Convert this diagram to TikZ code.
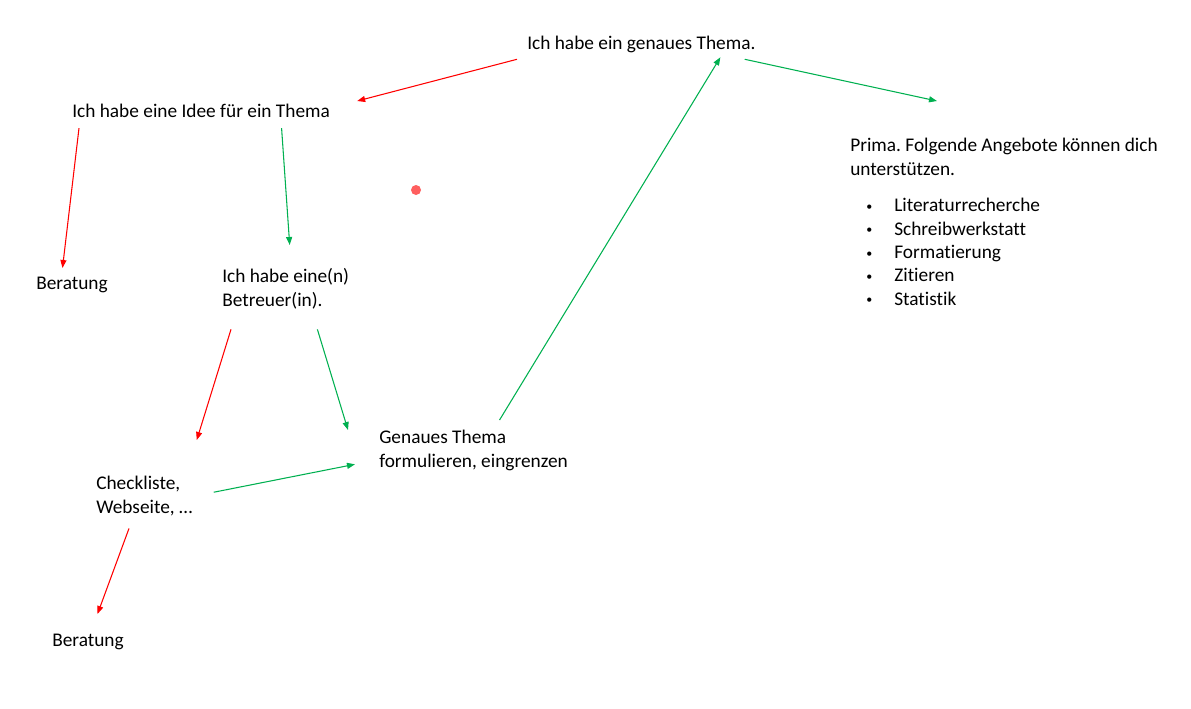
\documentclass[tikz,border=0pt]{standalone}
\usepackage{fontspec}
\setmainfont[Ligatures=NoCommon]{Carlito}
\usetikzlibrary{arrows.meta}
\definecolor{neinred}{RGB}{255,0,0}
\definecolor{jagreen}{RGB}{0,176,80}
\definecolor{punktred}{RGB}{255,95,95}
\frenchspacing
\newcommand{\punkt}{\makebox[21pt][l]{\raisebox{1pt}{\fontsize{9}{9}\selectfont\textbullet}}}

\begin{document}
\begin{tikzpicture}[
    x=0.75pt, y=-0.75pt,
    font=\fontsize{14.5}{18}\selectfont,
    txt/.style={inner sep=0pt, anchor=north west, align=left},
    ja/.style={-{Triangle[length=6pt,width=4.5pt]}, line width=0.8pt, draw=jagreen},
    nein/.style={-{Triangle[length=6pt,width=4.5pt]}, line width=0.8pt, draw=neinred}
]
\useasboundingbox (0,0) rectangle (1191,708);

\node[txt] (top) at (527,36) {Ich habe ein genaues Thema.};
\node[txt] (idee) at (72,104) {Ich habe eine Idee für ein Thema};
\node[txt] (berA) at (36,277) {Beratung};
\node[txt] (betreuer) at (222,268) {Ich habe eine(n)\\Betreuer(in).};
\node[txt] (genau) at (379,430) {Genaues Thema\\formulieren, eingrenzen};
\node[txt] (check) at (96,476) {Checkliste,\\Webseite, …};
\node[txt] (berB) at (52,634) {Beratung};
\node[txt] (prima) at (850,138) {Prima. Folgende Angebote können dich\\unterstützen.};
\node[txt, font=\fontsize{14.5}{17.5}\selectfont] (angebote) at (866,198)
    {\punkt Literaturrecherche\\
     \punkt Schreibwerkstatt\\
     \punkt Formatierung\\
     \punkt Zitieren\\
     \punkt Statistik};
\node[circle, fill=punktred, minimum size=7.5pt, inner sep=0pt] (fleck) at (416,190) {};

% nein
\draw[nein] ([shift={(-10,6)}]top.south west) -- ([shift={(27,-3)}]idee.north east);
\draw[nein] ([shift={(7,10)}]idee.south west) -- ([shift={(-9.5,-9)}]berA.north);
\draw[nein] ([shift={(9,20)}]betreuer.south west) -- ([shift={(4,-36)}]check.north east);
\draw[nein] ([shift={(33,12)}]check.south west) -- ([shift={(9.5,-20)}]berB.north);

% ja
\draw[ja] ([shift={(80.5,10)}]idee.south) -- ([shift={(4,-23)}]betreuer.north);
\draw[ja] ([shift={(-32,20)}]betreuer.south east) -- ([shift={(-31,0)}]genau.north west);
\draw[ja] ([shift={(21,-4)}]check.east) -- ([shift={(-24,-7)}]genau.south west);
\draw[ja] ([shift={(26,-10)}]genau.north) -- ([shift={(79,4)}]top.south);
\draw[ja] ([shift={(-11,6)}]top.south east) -- ([shift={(87,-37)}]prima.north west);
\end{tikzpicture}
\end{document}
